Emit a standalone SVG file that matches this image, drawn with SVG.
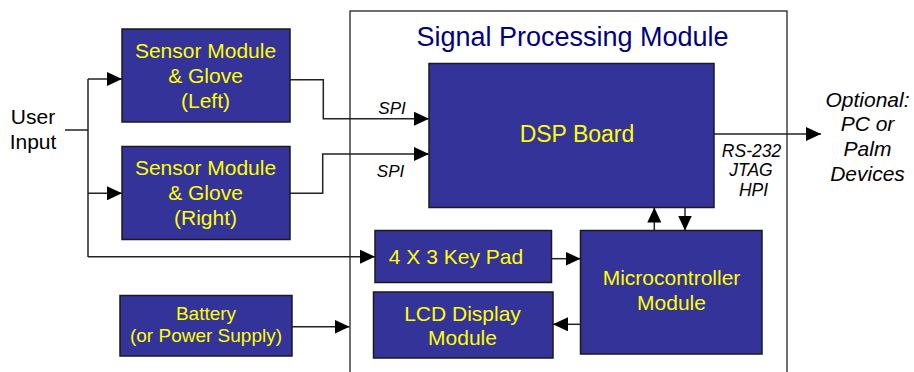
<svg xmlns="http://www.w3.org/2000/svg" width="914" height="372" viewBox="0 0 914 372">
<style>
.box{fill:#333399;stroke:#1a1a1a;stroke-width:1.5}
.t{font-family:"Liberation Sans",Arial,sans-serif;fill:#ffff00;text-anchor:middle}
.k{font-family:"Liberation Sans",Arial,sans-serif;fill:#000;text-anchor:middle}
.i{font-style:italic}
.c{fill:none;stroke:#222;stroke-width:1.5}
</style>
<defs>
<marker id="ah" markerUnits="userSpaceOnUse" markerWidth="15" markerHeight="14" refX="15" refY="7" orient="auto">
<path d="M0,0 L15,7 L0,14 z" fill="#000"/>
</marker>
</defs>
<rect width="914" height="372" fill="#fff"/>
<g id="signal-processing-module">
<rect x="350" y="11" width="437" height="400" fill="none" stroke="#111" stroke-width="1.2"/>
<text x="572.5" y="46" font-family="'Liberation Sans',Arial,sans-serif" font-size="27" fill="#000080" text-anchor="middle">Signal Processing Module</text>
</g>
<g id="user-input">
<text class="k" font-size="21"><tspan x="33" y="123.5">User</tspan><tspan x="33" y="148.5">Input</tspan></text>
</g>
<g id="sensor-left">
<rect class="box" x="122" y="29" width="168" height="93"/>
<text class="t" font-size="21"><tspan x="205.5" y="57.5">Sensor Module</tspan><tspan x="205.5" y="82.5">&amp; Glove</tspan><tspan x="205.5" y="107.5">(Left)</tspan></text>
</g>
<g id="sensor-right">
<rect class="box" x="122" y="146.5" width="168" height="93"/>
<text class="t" font-size="21"><tspan x="205.5" y="175">Sensor Module</tspan><tspan x="205.5" y="200">&amp; Glove</tspan><tspan x="205.5" y="224.5">(Right)</tspan></text>
</g>
<g id="battery">
<rect class="box" x="120" y="295.5" width="172" height="60.5"/>
<text class="t" font-size="19"><tspan x="206" y="320">Battery</tspan><tspan x="206" y="341.5">(or Power Supply)</tspan></text>
</g>
<g id="dsp-board">
<rect class="box" x="429" y="63.5" width="285" height="144"/>
<text class="t" x="577" y="141.5" font-size="23">DSP Board</text>
</g>
<g id="key-pad">
<rect class="box" x="375" y="230.5" width="176.5" height="52"/>
<text class="t" x="456" y="264" font-size="21">4 X 3 Key Pad</text>
</g>
<g id="lcd-display">
<rect class="box" x="373.5" y="292" width="179.5" height="66"/>
<text class="t" font-size="21"><tspan x="462.5" y="320.5">LCD Display</tspan><tspan x="462.5" y="345">Module</tspan></text>
</g>
<g id="microcontroller">
<rect class="box" x="580.5" y="230.5" width="181.5" height="123.5"/>
<text class="t" font-size="21"><tspan x="671.5" y="285">Microcontroller</tspan><tspan x="671.5" y="310">Module</tspan></text>
</g>
<g id="output-devices">
<text class="k i" font-size="21"><tspan x="867.5" y="106.5">Optional:</tspan><tspan x="867.5" y="131">PC or</tspan><tspan x="867.5" y="156">Palm</tspan><tspan x="867.5" y="180.5">Devices</tspan></text>
</g>
<g id="connectors">
<path class="c" d="M65,130 H88"/>
<path class="c" d="M88,79 V257"/>
<path class="c" d="M88,79 H122" marker-end="url(#ah)"/>
<path class="c" d="M88,193.3 H122" marker-end="url(#ah)"/>
<path class="c" d="M88,256.7 H375" marker-end="url(#ah)"/>
<path class="c" d="M290,79.7 H323.3 V118.7 H429" marker-end="url(#ah)"/>
<path class="c" d="M290,193.3 H322.7 V154 H429" marker-end="url(#ah)"/>
<path class="c" d="M714,134 H821" marker-end="url(#ah)"/>
<path class="c" d="M654.3,230.5 V207.5" marker-end="url(#ah)"/>
<path class="c" d="M685,207.5 V230.5" marker-end="url(#ah)"/>
<path class="c" d="M551.5,258.7 H580.5" marker-end="url(#ah)"/>
<path class="c" d="M580.5,324.3 H553" marker-end="url(#ah)"/>
<path class="c" d="M292,326.7 H349.5" marker-end="url(#ah)"/>
<text class="k i" font-size="17"><tspan x="392" y="113.5">SPI</tspan><tspan x="390.5" y="176.5">SPI</tspan></text>
<text class="k i" font-size="17.5"><tspan x="751.5" y="156.5">RS-232</tspan><tspan x="751" y="175.5">JTAG</tspan><tspan x="753.5" y="196">HPI</tspan></text>
</g>
</svg>
